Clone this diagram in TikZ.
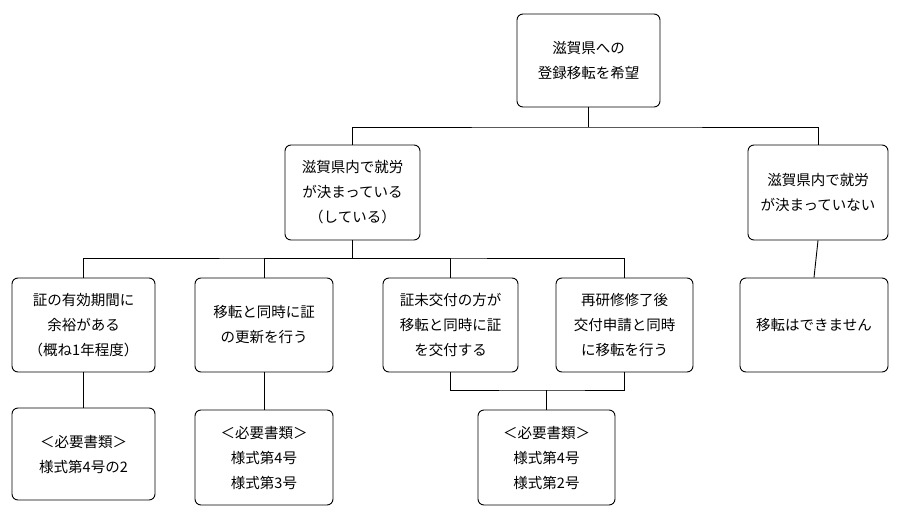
\documentclass[tikz,border=0pt]{standalone}
\usepackage{fontspec}
\newfontfamily\cjk{Noto Sans CJK JP}
\tikzset{
  box/.style={draw, rounded corners=6pt, line width=0.9pt, align=center,
    font=\cjk\fontsize{14.5}{25}\selectfont, inner sep=0pt},
  link/.style={line width=0.9pt}
}
\begin{document}
\begin{tikzpicture}[x=1pt, y=-1pt]
  \useasboundingbox (0,0) rectangle (913,525);
  \node[box, minimum width=143pt, minimum height=93pt] (top) at (588.5,60.5) {滋賀県への\\登録移転を希望};
  \node[box, minimum width=135pt, minimum height=95pt] (yes) at (352.5,192.5) {滋賀県内で就労\\が決まっている\\（している）};
  \node[box, minimum width=140pt, minimum height=95pt] (no) at (818,192.5) {滋賀県内で就労\\が決まっていない};
  \node[box, minimum width=143pt, minimum height=94pt] (c1) at (83.5,325) {証の有効期間に\\余裕がある\\（概ね1年程度）};
  \node[box, minimum width=138pt, minimum height=94pt] (c2) at (264,325) {移転と同時に証\\の更新を行う};
  \node[box, minimum width=135pt, minimum height=94pt] (c3) at (450.5,325) {証未交付の方が\\移転と同時に証\\を交付する};
  \node[box, minimum width=137pt, minimum height=94pt] (c4) at (624.5,325) {再研修修了後\\交付申請と同時\\に移転を行う};
  \node[box, minimum width=148pt, minimum height=94pt] (c5) at (814,325) {移転はできません};
  \node[box, minimum width=143pt, minimum height=92pt] (d1) at (83.5,454) {＜必要書類＞\\様式第4号の2};
  \node[box, minimum width=138pt, minimum height=95pt] (d2) at (264,457.5) {＜必要書類＞\\様式第4号\\様式第3号};
  \node[box, minimum width=137pt, minimum height=95pt] (d3) at (546.5,457.5) {＜必要書類＞\\様式第4号\\様式第2号};
  % connectors
  \coordinate (j1) at (588.5,127);
  \coordinate (j2) at (352.5,258);
  \coordinate (j3) at (546.5,390);
  \draw[link] (top.south) -- (j1);
  \draw[link] (yes.north) |- (j1) -| (no.north);
  \draw[link] (yes.south) -- (j2);
  \draw[link] (c1.north) |- (j2) -| (c4.north);
  \draw[link] (c2.north) |- (j2);
  \draw[link] (c3.north) |- (j2);
  \draw[link] (no.south) -- (c5.north);
  \draw[link] (c1.south) -- (d1.north);
  \draw[link] (c2.south) -- (d2.north);
  \draw[link] (c3.south) |- (j3) -| (c4.south);
  \draw[link] (j3) -- (d3.north);
\end{tikzpicture}
\end{document}
